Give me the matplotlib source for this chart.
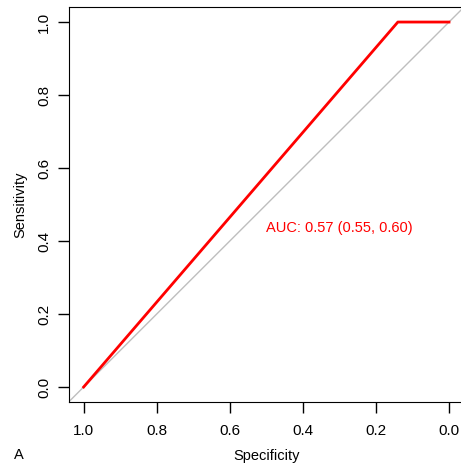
import matplotlib
matplotlib.use("Agg")
import matplotlib.pyplot as plt

plt.rcParams['font.family'] = ['Liberation Sans', 'DejaVu Sans']

# ROC points (specificity, sensitivity)
specificity = [1.0, 0.14, 0.0]
sensitivity = [0.0, 1.0, 1.0]
auc_text = "AUC: 0.57 (0.55, 0.60)"
ticks = [0.0, 0.2, 0.4, 0.6, 0.8, 1.0]

fig = plt.figure(figsize=(4.61, 4.65), dpi=100)
ax = fig.add_axes([0.1497, 0.1363, 0.856, 0.8477])

# chance line
ax.plot([1.04, -0.04], [-0.04, 1.04], color='#bebebe', lw=1)
ax.plot(specificity, sensitivity, color='#ff0000', lw=2)

ax.set_xlim(1.04, -0.04)
ax.set_ylim(-0.04, 1.04)
ax.set_xticks(ticks)
ax.set_yticks(ticks)
ax.set_xticklabels(['%.1f' % t for t in ticks])
ax.set_yticklabels(['%.1f' % t for t in ticks], rotation=90, va='center')
ax.tick_params(direction='out', length=8, width=1, labelsize=11)
ax.tick_params(axis='x', pad=8)
ax.tick_params(axis='y', pad=5)

ax.set_xlabel('Specificity', fontsize=10.5, labelpad=8)
ax.set_ylabel('Sensitivity', fontsize=10.5, labelpad=7)

ax.text(0.5, 0.435, auc_text, color='#ff0000', fontsize=10.5, ha='left', va='center')

fig.text(14 / 461, 1 - 455 / 465, 'A', fontsize=10.5, ha='left', va='center')

fig.savefig('out.png', dpi=100)
